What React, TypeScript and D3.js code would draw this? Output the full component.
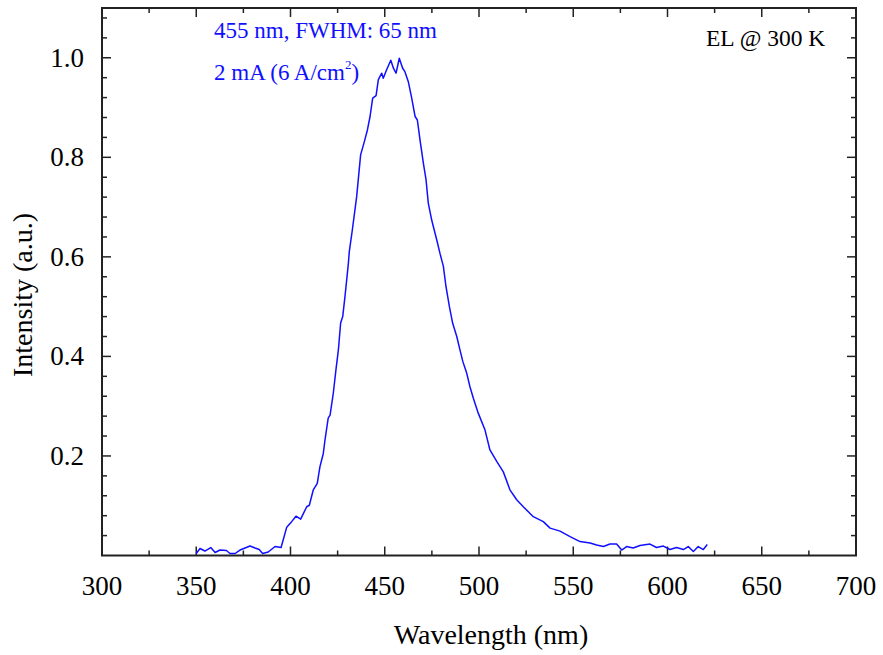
import React from "react";
import * as d3 from "d3";

const wavelength = [350,352,354.6,357.7,360,362.6,366,367.9,370.6,373.2,375.9,378.5,381.2,383.4,385.2,388.2,391.8,395,398,400.6,402.9,405.4,408.6,410,412.1,414.2,415.6,417.4,418.3,420,421,422.7,424.1,425.4,426.6,427.7,428.9,430.7,431.2,432.8,435.1,437.2,439,440.8,442.2,443.6,445.4,446.6,448.4,449.2,451,453.2,454.6,456,457.7,459.5,460.7,462.5,464.3,466.1,467.3,468.7,470.5,471.9,473.1,474.9,477.6,479.3,481.1,482.5,484.3,486,488.2,489.9,491.4,493.5,495.2,497,499.6,503.2,505.8,509.4,512.9,516.4,520,523.5,528.8,534.1,537.7,543,548.3,553.6,558.9,562.4,566,569.5,573,575.7,578.3,581.8,585.4,590.7,594.2,597.8,601.3,604.8,608.4,611,613.7,616.3,619,621.1];
const intensity = [0.004,0.014,0.009,0.016,0.006,0.011,0.01,0.004,0.004,0.011,0.015,0.019,0.015,0.012,0.004,0.007,0.018,0.016,0.057,0.068,0.079,0.073,0.098,0.101,0.132,0.145,0.178,0.205,0.232,0.276,0.282,0.326,0.373,0.413,0.467,0.48,0.52,0.587,0.611,0.654,0.721,0.805,0.829,0.855,0.882,0.919,0.924,0.956,0.969,0.959,0.976,0.995,0.979,0.969,0.999,0.979,0.972,0.952,0.919,0.882,0.875,0.835,0.788,0.755,0.708,0.674,0.634,0.607,0.581,0.54,0.5,0.467,0.44,0.413,0.39,0.366,0.339,0.316,0.286,0.252,0.212,0.189,0.168,0.132,0.112,0.098,0.078,0.068,0.055,0.049,0.038,0.028,0.025,0.021,0.018,0.023,0.023,0.011,0.018,0.015,0.02,0.023,0.016,0.019,0.012,0.016,0.012,0.018,0.008,0.018,0.012,0.022];

const xMajor = [300,350,400,450,500,550,600,650,700];
const xMinor = [325,375,425,475,525,575,625,675];
const yMajor = [0.2,0.4,0.6,0.8,1.0];
const yMinor = [0.04,0.08,0.12,0.16,0.24,0.28,0.32,0.36,0.44,0.48,0.52,0.56,0.64,0.68,0.72,0.76,0.84,0.88,0.92,0.96,1.04,1.08];

export default function App() {
  const W = 883, H = 655;
  const left = 102, right = 856, top = 8, bottom = 555.5;
  const x = d3.scaleLinear().domain([300, 700]).range([left, right]);
  const y = d3.scaleLinear().domain([0, 1.1]).range([bottom, top]);
  const line = d3.line<number>().x((d, i) => x(wavelength[i])).y((d) => y(d));
  const font = "'Liberation Serif', 'Times New Roman', serif";
  const axisColor = "#222";
  const majL = 9, minL = 5;
  return (
    <svg width={W} height={H} style={{ position: "absolute", left: 0, top: 0 }}>
      <rect x={0} y={0} width={W} height={H} fill="white" />
      <g stroke={axisColor} strokeWidth={1.5}>
        {xMajor.map((v) => (
          <g key={"xm" + v}>
            <line x1={x(v)} x2={x(v)} y1={bottom} y2={bottom - majL} />
            <line x1={x(v)} x2={x(v)} y1={top} y2={top + majL} />
          </g>
        ))}
        {xMinor.map((v) => (
          <g key={"xn" + v}>
            <line x1={x(v)} x2={x(v)} y1={bottom} y2={bottom - minL} />
            <line x1={x(v)} x2={x(v)} y1={top} y2={top + minL} />
          </g>
        ))}
        {yMajor.map((v) => (
          <g key={"ym" + v}>
            <line x1={left} x2={left + majL} y1={y(v)} y2={y(v)} />
            <line x1={right} x2={right - majL} y1={y(v)} y2={y(v)} />
          </g>
        ))}
        {yMinor.map((v) => (
          <g key={"yn" + v}>
            <line x1={left} x2={left + minL} y1={y(v)} y2={y(v)} />
            <line x1={right} x2={right - minL} y1={y(v)} y2={y(v)} />
          </g>
        ))}
      </g>
      <rect x={left} y={top} width={right - left} height={bottom - top} fill="none" stroke={axisColor} strokeWidth={2} />
      <path d={line(intensity) || ""} fill="none" stroke="#1010ff" strokeWidth={1.5} strokeLinejoin="round" />
      <g fontFamily={font} fontSize={27} fill="black">
        {xMajor.map((v) => (
          <text key={"xl" + v} x={x(v)} y={595} textAnchor="middle">{v}</text>
        ))}
        {yMajor.map((v) => (
          <text key={"yl" + v} x={left - 18} y={y(v) + 9} textAnchor="end">{v.toFixed(1)}</text>
        ))}
      </g>
      <g fontFamily={font} fontSize={28} fill="black">
        <text x={491} y={644} textAnchor="middle">Wavelength (nm)</text>
        <text transform={`translate(32, 295) rotate(-90)`} textAnchor="middle">Intensity (a.u.)</text>
      </g>
      <g fontFamily={font} fontSize={23} fill="#1010ff">
        <text x={214} y={38}>455 nm, FWHM: 65 nm</text>
        <text x={214} y={80}>2 mA (6 A/cm<tspan fontSize={13} dy={-11}>2</tspan><tspan dy={11}>)</tspan></text>
      </g>
      <text x={706} y={46} fontFamily={font} fontSize={23.5} fill="black">EL @ 300 K</text>
    </svg>
  );
}
